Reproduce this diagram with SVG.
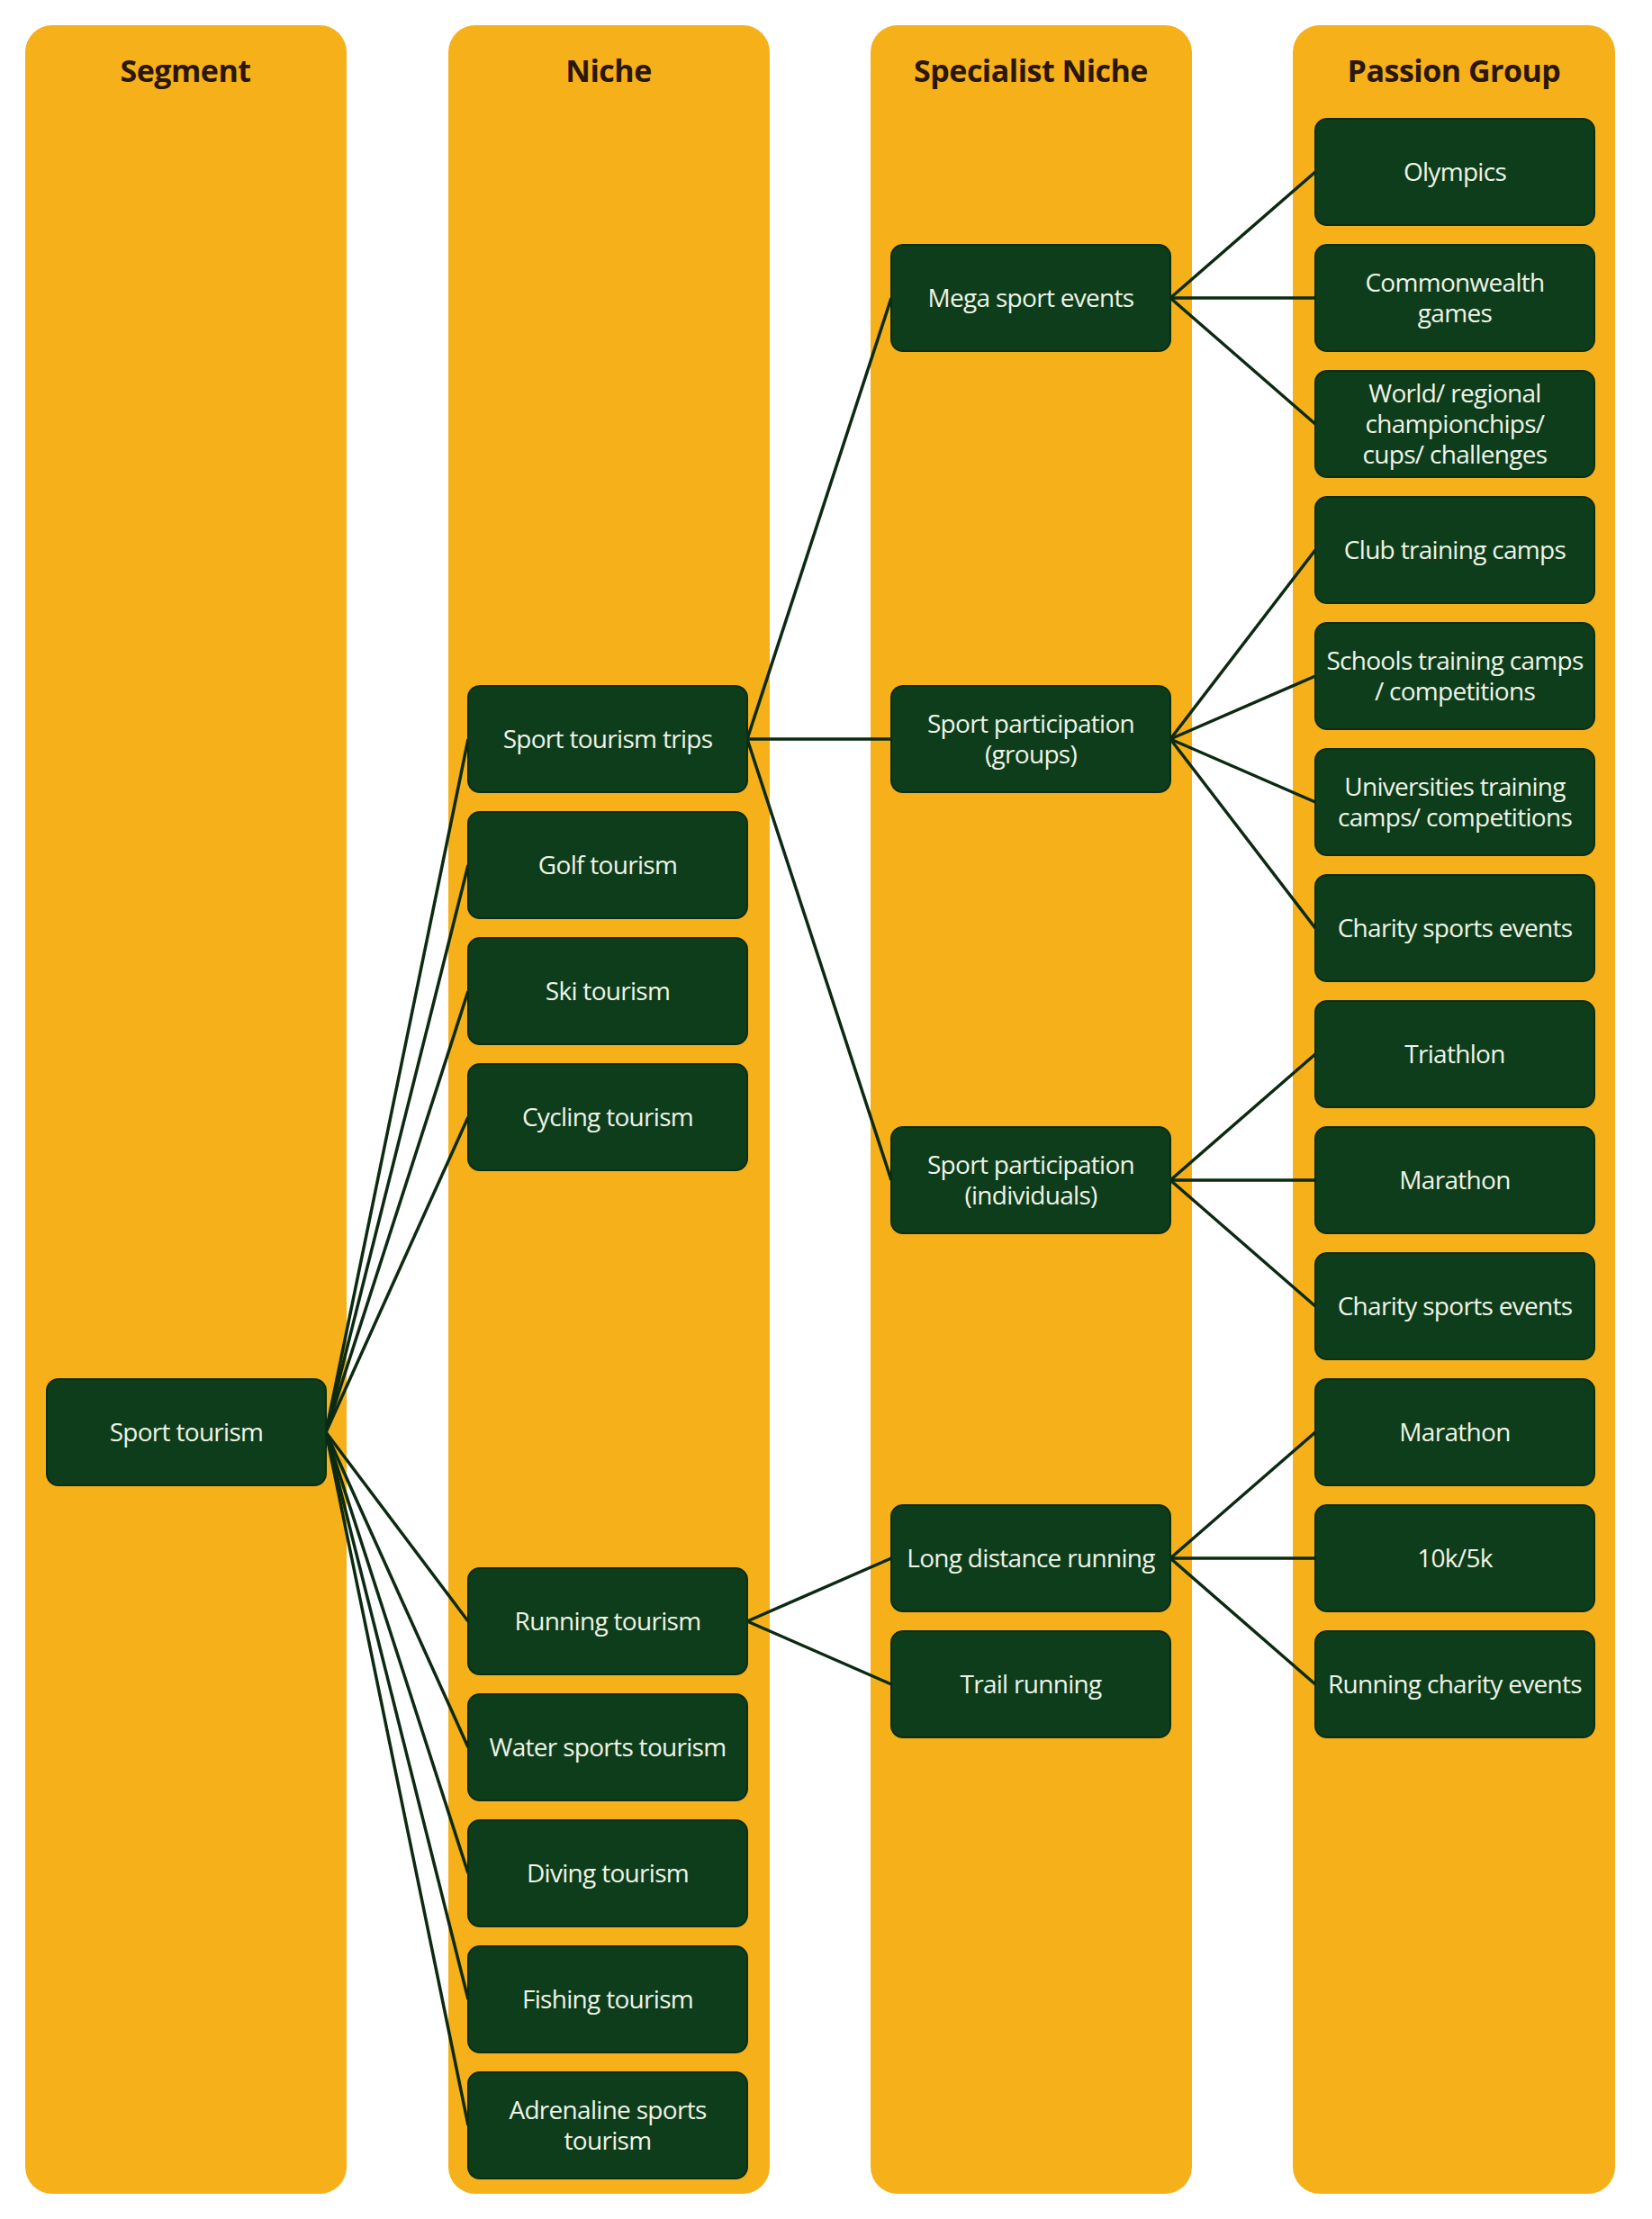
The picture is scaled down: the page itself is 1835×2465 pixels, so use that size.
<svg xmlns="http://www.w3.org/2000/svg" width="1835" height="2465" viewBox="0 0 1835 2465">
<style>
.col{fill:#f6b01a}
.hd{font-family:"Open Sans","Liberation Sans",sans-serif;font-weight:bold;font-size:34px;fill:#2a1709;text-anchor:middle;letter-spacing:-0.5px}
.nd rect{fill:#0e3d1c;stroke:#0a2e14;stroke-width:2}
.nd text{font-family:"Open Sans","Liberation Sans",sans-serif;font-size:28px;fill:#eef4e6;text-anchor:middle;letter-spacing:-0.7px}
.cn line{stroke:#0c2a12;stroke-width:3.5}
</style>
<rect width="1835" height="2465" fill="#ffffff"/>
<g id="columns">
<rect class="col" x="28" y="28" width="357" height="2409" rx="30"/>
<rect class="col" x="498" y="28" width="357" height="2409" rx="30"/>
<rect class="col" x="967" y="28" width="357" height="2409" rx="30"/>
<rect class="col" x="1436" y="28" width="358" height="2409" rx="30"/>
<text class="hd" x="206" y="91">Segment</text>
<text class="hd" x="676" y="91">Niche</text>
<text class="hd" x="1145" y="91">Specialist Niche</text>
<text class="hd" x="1615" y="91">Passion Group</text>
</g>
<g id="connectors" class="cn">
<line x1="362" y1="1591" x2="520" y2="821"/>
<line x1="362" y1="1591" x2="520" y2="961"/>
<line x1="362" y1="1591" x2="520" y2="1101"/>
<line x1="362" y1="1591" x2="520" y2="1241"/>
<line x1="362" y1="1591" x2="520" y2="1801"/>
<line x1="362" y1="1591" x2="520" y2="1941"/>
<line x1="362" y1="1591" x2="520" y2="2081"/>
<line x1="362" y1="1591" x2="520" y2="2221"/>
<line x1="362" y1="1591" x2="520" y2="2361"/>
<line x1="830" y1="821" x2="990" y2="331"/>
<line x1="830" y1="821" x2="990" y2="821"/>
<line x1="830" y1="821" x2="990" y2="1311"/>
<line x1="830" y1="1801" x2="990" y2="1731"/>
<line x1="830" y1="1801" x2="990" y2="1871"/>
<line x1="1300" y1="331" x2="1461" y2="191"/>
<line x1="1300" y1="331" x2="1461" y2="331"/>
<line x1="1300" y1="331" x2="1461" y2="471"/>
<line x1="1300" y1="821" x2="1461" y2="611"/>
<line x1="1300" y1="821" x2="1461" y2="751"/>
<line x1="1300" y1="821" x2="1461" y2="891"/>
<line x1="1300" y1="821" x2="1461" y2="1031"/>
<line x1="1300" y1="1311" x2="1461" y2="1171"/>
<line x1="1300" y1="1311" x2="1461" y2="1311"/>
<line x1="1300" y1="1311" x2="1461" y2="1451"/>
<line x1="1300" y1="1731" x2="1461" y2="1591"/>
<line x1="1300" y1="1731" x2="1461" y2="1731"/>
<line x1="1300" y1="1731" x2="1461" y2="1871"/>
</g>
<g id="n-sport-tourism" class="nd"><rect x="52" y="1532" width="310" height="118" rx="13"/><text x="207" y="1601">Sport tourism</text></g>
<g id="n-trips" class="nd"><rect x="520" y="762" width="310" height="118" rx="13"/><text x="675" y="831">Sport tourism trips</text></g>
<g id="n-golf" class="nd"><rect x="520" y="902" width="310" height="118" rx="13"/><text x="675" y="971">Golf tourism</text></g>
<g id="n-ski" class="nd"><rect x="520" y="1042" width="310" height="118" rx="13"/><text x="675" y="1111">Ski tourism</text></g>
<g id="n-cycling" class="nd"><rect x="520" y="1182" width="310" height="118" rx="13"/><text x="675" y="1251">Cycling tourism</text></g>
<g id="n-running" class="nd"><rect x="520" y="1742" width="310" height="118" rx="13"/><text x="675" y="1811">Running tourism</text></g>
<g id="n-water" class="nd"><rect x="520" y="1882" width="310" height="118" rx="13"/><text x="675" y="1951">Water sports tourism</text></g>
<g id="n-diving" class="nd"><rect x="520" y="2022" width="310" height="118" rx="13"/><text x="675" y="2091">Diving tourism</text></g>
<g id="n-fishing" class="nd"><rect x="520" y="2162" width="310" height="118" rx="13"/><text x="675" y="2231">Fishing tourism</text></g>
<g id="n-adrenaline" class="nd"><rect x="520" y="2302" width="310" height="118" rx="13"/><text x="675" y="2354">Adrenaline sports</text><text x="675" y="2388">tourism</text></g>
<g id="n-mega" class="nd"><rect x="990" y="272" width="310" height="118" rx="13"/><text x="1145" y="341">Mega sport events</text></g>
<g id="n-groups" class="nd"><rect x="990" y="762" width="310" height="118" rx="13"/><text x="1145" y="814">Sport participation</text><text x="1145" y="848">(groups)</text></g>
<g id="n-individuals" class="nd"><rect x="990" y="1252" width="310" height="118" rx="13"/><text x="1145" y="1304">Sport participation</text><text x="1145" y="1338">(individuals)</text></g>
<g id="n-long" class="nd"><rect x="990" y="1672" width="310" height="118" rx="13"/><text x="1145" y="1741">Long distance running</text></g>
<g id="n-trail" class="nd"><rect x="990" y="1812" width="310" height="118" rx="13"/><text x="1145" y="1881">Trail running</text></g>
<g id="n-olympics" class="nd"><rect x="1461" y="132" width="310" height="118" rx="13"/><text x="1616" y="201">Olympics</text></g>
<g id="n-commonwealth" class="nd"><rect x="1461" y="272" width="310" height="118" rx="13"/><text x="1616" y="324">Commonwealth</text><text x="1616" y="358">games</text></g>
<g id="n-world" class="nd"><rect x="1461" y="412" width="310" height="118" rx="13"/><text x="1616" y="447">World/ regional</text><text x="1616" y="481">championchips/</text><text x="1616" y="515">cups/ challenges</text></g>
<g id="n-club" class="nd"><rect x="1461" y="552" width="310" height="118" rx="13"/><text x="1616" y="621">Club  training camps</text></g>
<g id="n-schools" class="nd"><rect x="1461" y="692" width="310" height="118" rx="13"/><text x="1616" y="744">Schools training camps</text><text x="1616" y="778">/ competitions</text></g>
<g id="n-universities" class="nd"><rect x="1461" y="832" width="310" height="118" rx="13"/><text x="1616" y="884">Universities training</text><text x="1616" y="918">camps/ competitions</text></g>
<g id="n-charity1" class="nd"><rect x="1461" y="972" width="310" height="118" rx="13"/><text x="1616" y="1041">Charity sports events</text></g>
<g id="n-triathlon" class="nd"><rect x="1461" y="1112" width="310" height="118" rx="13"/><text x="1616" y="1181">Triathlon</text></g>
<g id="n-marathon1" class="nd"><rect x="1461" y="1252" width="310" height="118" rx="13"/><text x="1616" y="1321">Marathon</text></g>
<g id="n-charity2" class="nd"><rect x="1461" y="1392" width="310" height="118" rx="13"/><text x="1616" y="1461">Charity sports events</text></g>
<g id="n-marathon2" class="nd"><rect x="1461" y="1532" width="310" height="118" rx="13"/><text x="1616" y="1601">Marathon</text></g>
<g id="n-10k" class="nd"><rect x="1461" y="1672" width="310" height="118" rx="13"/><text x="1616" y="1741">10k/5k</text></g>
<g id="n-running-charity" class="nd"><rect x="1461" y="1812" width="310" height="118" rx="13"/><text x="1616" y="1881">Running charity events</text></g>
</svg>
